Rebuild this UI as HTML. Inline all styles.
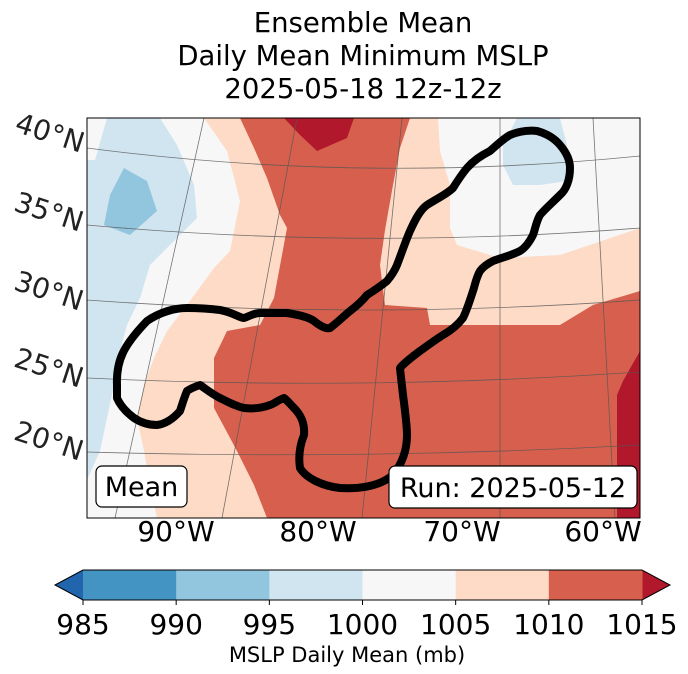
<!DOCTYPE html>
<html><head><meta charset="utf-8"><style>
body{margin:0;background:#fff;width:688px;height:674px;overflow:hidden;font-family:"DejaVu Sans","Liberation Sans",sans-serif}
svg{display:block}
</style></head><body>
<svg id="fig" width="688" height="674" viewBox="0 0 688 674" xmlns="http://www.w3.org/2000/svg" font-family="DejaVu Sans, Liberation Sans, sans-serif">
<g font-size="27.5" text-anchor="middle" fill="#000">
<text x="363" y="32">Ensemble Mean</text>
<text x="363" y="65">Daily Mean Minimum MSLP</text>
<text x="363" y="98">2025-05-18 12z-12z</text>
</g>
<defs><clipPath id="mapclip"><rect x="87" y="118" width="553" height="400"/></clipPath></defs>
<g clip-path="url(#mapclip)">
<rect x="87" y="118" width="553" height="400" fill="#d6604d"/>
<polygon fill="#fddbc7" points="87,118 240,118 254,148 267,178 280,215 287,228 274,298 260,325 227,331 214,358 214,408 237,451 254,485 267,518 87,518"/>
<polygon fill="#f7f7f7" points="87,118 204,118 227,151 240,201 230,251 214,268 187,305 167,331 154,358 144,385 137,418 144,451 150,485 157,518 87,518"/>
<polygon fill="#d1e5f0" points="107,118 160,118 177,145 194,185 197,218 170,245 150,265 140,298 127,325 120,351 114,385 107,418 100,451 87,480 87,160 95,160"/>
<polygon fill="#92c5de" points="124,168 147,181 157,211 130,235 104,225 110,195"/>
<polygon fill="#b2182b" points="284,118 354,118 347,138 317,151 300,135"/>
<polygon fill="#fddbc7" points="410,118 640,118 640,291 593,305 560,325 430,325 427,308 385,305 380,265 385,230 393,185 400,148"/>
<polygon fill="#f7f7f7" points="438,118 640,118 640,228 560,255 500,258 457,245 450,228 450,185 440,151"/>
<polygon fill="#d1e5f0" points="517,118 560,118 567,145 567,181 540,185 513,185 503,165 503,145"/>
<polygon fill="#b2182b" points="640,351 623,381 617,395 617,518 640,518"/>
<g stroke="#555" stroke-width="0.8" fill="none" opacity="0.8">
<path d="M87,148 Q363,184 640,156"/>
<path d="M87,225 Q363,250 640,228"/>
<path d="M87,300 Q363,320 640,300"/>
<path d="M87,378 Q363,391 640,372"/>
<path d="M87,452 Q363,460 640,445"/>
<path d="M204,118 L115,518"/><path d="M297,118 L222,518"/><path d="M402,118 L362,518"/><path d="M500,118 L500,518"/><path d="M593,118 L615,518"/>
</g>
<path fill="none" stroke="#000" stroke-width="8" stroke-linejoin="round" d="M117,385 C116,360 124,345 147,321 C160,312 175,308 187,308 C200,308 212,309 220,310 C232,312 240,318 244,318 C250,316 254,313 260,313 L287,313 C300,315 310,318 314,321 C320,326 326,329 330,328 C338,322 345,315 350,311 C358,305 363,300 367,295 C375,290 382,285 387,281 C392,275 395,270 397,265 C402,252 406,240 410,231 C415,220 420,210 427,205 C438,198 447,194 453,188 C458,180 462,174 467,168 C474,160 482,155 490,151 C497,145 503,139 510,135 C520,131 528,130 537,131 C548,134 555,139 560,145 C566,152 570,160 570,168 C570,180 566,190 560,195 C552,203 545,209 540,215 C536,222 535,230 533,235 C529,243 525,248 520,251 C510,256 500,258 493,261 C487,264 483,267 480,271 C476,278 475,285 473,291 C470,300 467,310 463,318 C457,326 450,331 443,335 C435,340 427,346 420,351 C412,357 405,362 400,368 C401,378 402,386 403,395 C405,410 407,425 407,435 C407,452 401,465 393,475 C380,486 360,489 340,488 C322,486 306,478 300,468 C298,455 300,445 304,435 C305,422 300,414 294,408 C290,404 287,400 284,398 C278,400 274,404 270,405 C262,408 252,409 244,408 C235,406 228,402 220,398 C212,394 206,389 200,385 C194,387 190,389 187,391 C184,398 182,405 180,411 C173,419 165,424 157,425 C148,425 140,422 134,418 C126,412 120,405 117,398 Z"/>
</g>
<rect x="87" y="118" width="553" height="400" fill="none" stroke="#000" stroke-width="1"/>
<g font-size="28" text-anchor="middle" fill="#222">
<text transform="translate(47,142) rotate(18)">40°N</text>
<text transform="translate(46,221) rotate(18)">35°N</text>
<text transform="translate(46,300) rotate(18)">30°N</text>
<text transform="translate(46,377) rotate(18)">25°N</text>
<text transform="translate(46,450) rotate(18)">20°N</text>
</g>
<g font-size="28" text-anchor="middle" fill="#000">
<text x="176" y="541">90°W</text><text x="318" y="541">80°W</text><text x="462" y="541">70°W</text><text x="603" y="541">60°W</text>
</g>
<g>
<rect x="96" y="466" width="91" height="41" rx="6" fill="#fff" stroke="#000" stroke-width="1.2"/>
<text x="141.5" y="496" font-size="27" text-anchor="middle">Mean</text>
</g>
<g>
<rect x="389" y="466" width="248" height="42" rx="6" fill="#fff" stroke="#000" stroke-width="1.2"/>
<text x="513" y="497" font-size="27" text-anchor="middle">Run: 2025-05-12</text>
</g>
<g id="cbar"></g>
<text x="347" y="662" font-size="21" text-anchor="middle">MSLP Daily Mean (mb)</text>
</svg>
<script>
const levels = [985, 990, 995, 1000, 1005, 1010, 1015];
const binColors = ["#4393c3", "#92c5de", "#d1e5f0", "#f7f7f7", "#fddbc7", "#d6604d"];
const underColor = "#2166ac";
const overColor = "#b2182b";
(function(){
  const ns = "http://www.w3.org/2000/svg";
  const g = document.getElementById("cbar");
  const x0 = 83, x1 = 642, y0 = 570, y1 = 600;
  const sx = v => x0 + (v - levels[0]) / (levels[levels.length-1] - levels[0]) * (x1 - x0);
  const mk = (t, a) => { const e = document.createElementNS(ns, t); for (const k in a) e.setAttribute(k, a[k]); return e; };
  const lt = mk("polygon", {points: `${x0},${y0} ${x0},${y1} 55,${(y0+y1)/2}`, fill: underColor});
  
  
  g.appendChild(lt);
  const rt = mk("polygon", {points: `${x1},${y0} ${x1},${y1} 670,${(y0+y1)/2}`, fill: overColor});
  
  
  g.appendChild(rt);
  for (let i = 0; i < binColors.length; i++) {
    const r = mk("rect", {x: sx(levels[i]), y: y0, width: sx(levels[i+1]) - sx(levels[i]) + 0.5, height: y1 - y0, fill: binColors[i]});
    
    
    g.appendChild(r);
  }
  const outline = mk("polygon", {points: `55,${(y0+y1)/2} ${x0},${y0} ${x1},${y0} 670,${(y0+y1)/2} ${x1},${y1} ${x0},${y1}`, fill: "none", stroke: "#000", "stroke-width": 1});
  
  
  g.appendChild(outline);
  levels.forEach(v => {
    const tk = mk("line", {x1: sx(v), x2: sx(v), y1: y1, y2: y1 + 5, stroke: "#000"});
    
    
    g.appendChild(tk);
    const t = mk("text", {x: sx(v), y: 634, "font-size": 28, "text-anchor": "middle"});
    t.textContent = v;
    
    
    g.appendChild(t);
  });
})();
</script>
</body></html>
